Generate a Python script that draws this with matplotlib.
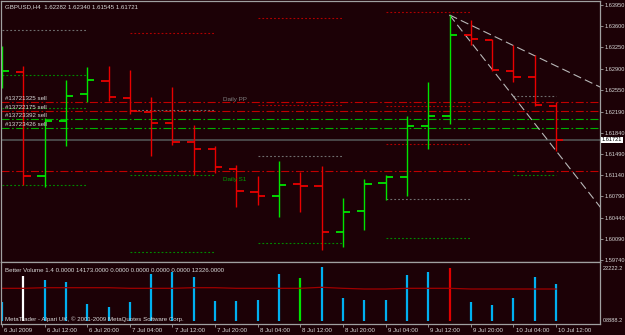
import matplotlib
matplotlib.use("Agg")
import matplotlib.pyplot as plt
import matplotlib.transforms as mtransforms

plt.rcParams['font.family'] = ['Liberation Sans', 'DejaVu Sans']
plt.rcParams['lines.scale_dashes'] = False

# GBPUSD H4 bars, 6 Jul 2009 .. 10 Jul 2009
opens  = [1.62711, 1.62848, 1.61126, 1.62034, 1.62475, 1.62700, 1.62409, 1.62178, 1.61996, 1.61692,
          1.61567, 1.61241, 1.60866, 1.60795, 1.60989, 1.60960, 1.60206, 1.60553, 1.61015, 1.61114,
          1.61956, 1.62117, 1.63459, 1.63372, 1.62865, 1.62756, 1.62282]
highs  = [1.63273, 1.62942, 1.62079, 1.62711, 1.62921, 1.62942, 1.62876, 1.62435, 1.62591, 1.61968,
          1.61621, 1.61307, 1.61131, 1.61373, 1.61197, 1.61296, 1.60757, 1.61071, 1.61142, 1.62117,
          1.62683, 1.63785, 1.63702, 1.63383, 1.63289, 1.63124, 1.62340]
lows   = [1.62579, 1.60977, 1.60939, 1.61626, 1.62343, 1.62369, 1.62145, 1.61461, 1.61638, 1.61142,
          1.61180, 1.60609, 1.60647, 1.60443, 1.60526, 1.59903, 1.59958, 1.60234, 1.60729, 1.60800,
          1.61567, 1.61985, 1.63289, 1.62865, 1.62683, 1.62282, 1.61545]
closes = [1.62865, 1.61131, 1.62039, 1.62447, 1.62706, 1.62425, 1.62204, 1.62009, 1.61682, 1.61572,
          1.61269, 1.60878, 1.60795, 1.60982, 1.60960, 1.60206, 1.60536, 1.60994, 1.61104, 1.61951,
          1.62117, 1.63455, 1.63383, 1.62876, 1.62766, 1.62298, 1.61721]

# Better Volume
volumes = [7360, 17420, 15860, 15190, 6460, 5400, 7360, 18200, 19100, 17150,
           7750, 7750, 8030, 18200, 16760, 21060, 8930, 8030, 8030, 17810,
           18870, 20440, 7130, 6070, 8690, 17150, 14173]
vol_avg = [12600, 12600, 12840, 12840, 12840, 12840, 12600, 12600, 12600, 12840,
           12840, 12600, 12600, 12600, 12600, 13000, 12600, 12330, 12330, 12600,
           12600, 12600, 12330, 12330, 12330, 12330, 12326]
vol_signal = ['', 'climax down', '', '', '', '', '', '', '', '',
              '', '', '', '', 'churn', '', '', '', '', '',
              '', 'climax up', '', '', '', '', '']

time_labels = ['6 Jul 2009', '6 Jul 12:00', '6 Jul 20:00', '7 Jul 04:00', '7 Jul 12:00',
               '7 Jul 20:00', '8 Jul 04:00', '8 Jul 12:00', '8 Jul 20:00', '9 Jul 04:00',
               '9 Jul 12:00', '9 Jul 20:00', '10 Jul 04:00', '10 Jul 12:00']
price_ticks = [1.63950, 1.63600, 1.63250, 1.62900, 1.62550, 1.62190, 1.61840,
               1.61490, 1.61140, 1.60790, 1.60440, 1.60090, 1.59740]
bid = 1.61721

# order lines
order_prices = [1.62343, 1.62199, 1.62062, 1.61913, 1.61203]
order_kinds = ['stop', 'stop', 'trade', 'trade', 'stop']
order_labels = ['#13721325 sell', '#13722175 sell', '#13723392 sell', '#13723426 sell', '']

# daily pivots (bar where each day starts / ends)
day_start = [0, 6, 12, 18, 24]
day_end = [4, 10, 16, 22, 26]
pivot_pp = [1.63537, 1.62216, 1.61456, 1.60741, 1.62452]
pivot_r = [[], [1.63483], [1.63730, 1.62298], [1.63829, 1.62287, 1.61654], []]
pivot_s = [[1.62789, 1.62254, 1.60969], [1.61137, 1.59870], [1.60024], [1.60097], [1.61142]]

# trend lines drawn from the 9 Jul 12:00 high
trend_x = [21, 28.1]
trend_upper = [1.63785, 1.62589]
trend_lower = [1.63785, 1.60599]

BG = '#1c0106'
UP = '#00e400'
DN = '#e80000'
TXT = '#d8d8d8'
GRID = '#a0a0a0'
FS = 4.1
W, H = 625, 335

fig = plt.figure(figsize=(W / 100, H / 100), dpi=100, facecolor=BG)
ax = fig.add_axes([1 / W, 73 / H, 599 / W, 261 / H], facecolor=BG)
axv = fig.add_axes([1 / W, 11 / H, 599 / W, 62 / H], facecolor=BG)

for a in (ax, axv):
    a.set_xlim(-0.047, 28.06)
    for s in a.spines.values():
        s.set_color(GRID)
        s.set_linewidth(0.9)
ax.set_ylim(1.59705, 1.64016)
axv.set_ylim(-1370, 22900)

# daily pivot segments
dot = (0, (1.3, 1.5))
for d in range(len(day_start)):
    x0, x1 = day_start[d], day_end[d]
    for p in pivot_r[d]:
        ax.hlines(p, x0, x1, color='#b00000', lw=0.8, linestyle=dot)
    ax.hlines(pivot_pp[d], x0, x1, color='#6e6e6e', lw=0.8, linestyle=dot)
    for p in pivot_s[d]:
        ax.hlines(p, x0, x1, color='#008a00', lw=0.8, linestyle=dot)
ax.text(10.36, 1.62393, 'Daily PP', color='#808080', fontsize=4.5, va='center')
ax.text(10.37, 1.61071, 'Daily S1', color='#00a000', fontsize=4.5, va='center')

# order lines + labels
xfa = mtransforms.blended_transform_factory(ax.transAxes, ax.transData)
for p, k, lab in zip(order_prices, order_kinds, order_labels):
    col = '#c00000' if k == 'stop' else '#00b000'
    ax.axhline(p, color=col, lw=0.8, linestyle=(0, (5.8, 1.8, 1.2, 1.8)))
    if lab:
        ax.text(0.006, p + 0.00018, lab, transform=xfa, color=TXT, fontsize=4.4, va='bottom')

# bid line
ax.axhline(bid, color='#4c4c4c', lw=1.3)

# trend lines
ax.plot(trend_x, trend_upper, color='#b8b8b8', lw=0.8, linestyle=(0, (6, 3)))
ax.plot(trend_x, trend_lower, color='#b8b8b8', lw=0.8, linestyle=(0, (6, 3)))

# OHLC bars
tick = 0.34
for i in range(len(opens)):
    c = UP if closes[i] >= opens[i] else DN
    ax.vlines(i, lows[i], highs[i], color=c, lw=1.0)
    ax.hlines(opens[i], i - tick, i, color=c, lw=1.3)
    ax.hlines(closes[i], i, i + tick, color=c, lw=1.3)

# price axis
ax.yaxis.tick_right()
ax.set_yticks(price_ticks)
ax.set_yticklabels(['%.5f' % p for p in price_ticks])
ax.tick_params(axis='y', colors=GRID, labelcolor=TXT, labelsize=FS, length=2, width=0.6, pad=1)
ax.set_xticks([])
ax.text(1.003, bid, '%.5f' % bid, transform=xfa, color='black', fontsize=FS, va='center',
        bbox=dict(facecolor='white', edgecolor='none', pad=0.5))

fig.text(5 / W, 1 - 7 / H, 'GBPUSD,H4  %.5f %.5f %.5f %.5f' % (opens[-1], highs[-1], lows[-1], closes[-1]),
         color=TXT, fontsize=4.4, va='center')

# volume panel
vol_colors = {'': '#00b0f0', 'climax down': '#ffffff', 'churn': '#00e400', 'climax up': '#e00000'}
for i, v in enumerate(volumes):
    axv.vlines(i, 0, v, color=vol_colors[vol_signal[i]], lw=1.6)
axv.plot(range(len(vol_avg)), vol_avg, color='#a00000', lw=0.9)

axv.yaxis.tick_right()
axv.set_yticks([])
axv.text(1.004, 0.93, '22222.2', transform=axv.transAxes, color=TXT, fontsize=FS, va='top')
axv.text(1.004, 0.0, '0', transform=axv.get_yaxis_transform(), color=TXT, fontsize=FS, va='center')
axv.text(1.009, 0.0, '8888.2', transform=axv.get_yaxis_transform(), color=TXT, fontsize=FS, va='center')

axv.text(0.006, 0.86, 'Better Volume 1.4 0.0000 %.4f 0.0000 0.0000 0.0000 0.0000 %.4f' % (volumes[-1], vol_avg[-1]),
         transform=axv.transAxes, color=TXT, fontsize=4.4, va='center')
axv.text(0.006, 0.07, 'MetaTrader - Alpari UK, \u00a9 2001-2009 MetaQuotes Software Corp.',
         transform=axv.transAxes, color=TXT, fontsize=4.4, va='center')

label_bars = list(range(0, 27, 2))
axv.set_xticks(label_bars)
axv.set_xticklabels([''] * len(label_bars))
axv.tick_params(axis='x', colors=GRID, length=2.5, width=0.6)
for b, lab in zip(label_bars, time_labels):
    axv.text(b + 0.1, -0.1, lab, transform=axv.get_xaxis_transform(), color=TXT, fontsize=4.4,
             va='center', ha='left')

fig.savefig('out.png', dpi=100, facecolor=BG)
